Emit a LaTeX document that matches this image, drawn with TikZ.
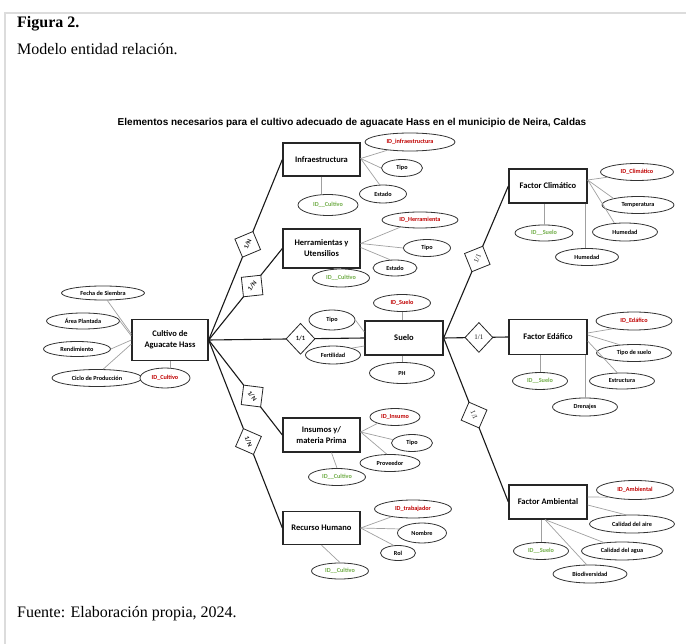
\documentclass[tikz,border=0pt]{standalone}
\usepackage{fontspec}
\setmainfont{Liberation Serif}
\newfontfamily\calib{Carlito}
\newfontfamily\arialf{Liberation Sans}
\usetikzlibrary{shapes.geometric}
\definecolor{idred}{HTML}{C00000}
\definecolor{idgreen}{HTML}{70AD47}
\definecolor{framegray}{HTML}{DCDCDC}
\definecolor{attline}{HTML}{A0A0A0}
\begin{document}
\begin{tikzpicture}[x=1pt,y=-1pt,
 ent/.style={draw=black!85, line width=1.3pt, minimum width=77pt, minimum height=34pt, inner sep=0pt, align=center, font=\calib\bfseries\fontsize{8.5}{11}\selectfont, fill=white},
 att/.style={ellipse, draw=black!80, line width=0.8pt, inner sep=0pt, font=\calib\bfseries\fontsize{6.2}{7}\selectfont, fill=white},
 sz/.style 2 args={minimum width=#1pt, minimum height=#2pt},
 pk/.style={att, text=idred},
 fk/.style={att, text=idgreen},
 rel/.style={diamond, draw=black!85, line width=0.8pt, inner sep=0pt, minimum width=28pt, minimum height=28pt, fill=white, font=\calib\bfseries\fontsize{6.5}{7}\selectfont},
 relr/.style={rel, font=\fontsize{7}{8}\selectfont},
 conn/.style={line width=1.1pt, black!90},
 aln/.style={line width=0.7pt, attline},
]
\useasboundingbox (0,0) rectangle (686,644);
\draw[framegray, line width=1.3pt] (5,650) -- (5,13) -- (690,13);

% captions
\node[anchor=base west, inner sep=0pt, font=\bfseries\fontsize{16}{19}\selectfont] (fig) at (17,28) {Figura 2.};
\node[anchor=base west, inner sep=0pt, font=\fontsize{16}{19}\selectfont] (sub) at (17,55) {Modelo entidad relación.};
\node[anchor=base west, inner sep=0pt, font=\fontsize{16}{19}\selectfont] (src) at (17,617) {Fuente: Elaboración propia, 2024.};
\node[font=\arialf\bfseries\fontsize{10}{12}\selectfont] (title) at (352,123) {Elementos necesarios para el cultivo adecuado de aguacate Hass en el municipio de Neira, Caldas};

% entities
\node[ent, minimum width=76pt, minimum height=41pt] (cul) at (170,340) {Cultivo de\\Aguacate Hass};
\node[ent, minimum height=33pt] (infra) at (321.5,159.5) {Infraestructura};
\node[ent, minimum height=39pt] (herr) at (321.5,248.5) {Herramientas y\\Utensilios};
\node[ent, minimum width=78pt] (suelo) at (404,338) {Suelo};
\node[ent] (ins) at (321.5,435) {Insumos y/\\materia Prima};
\node[ent, minimum height=33pt] (rec) at (321.5,528) {Recurso Humano};
\node[ent, minimum width=78pt] (clim) at (548,186) {Factor Climático};
\node[ent, minimum width=78pt, minimum height=35pt] (eda) at (548,337) {Factor Edáfico};
\node[ent, minimum width=78pt] (amb) at (548,502) {Factor Ambiental};

% main connectors with relationships
\draw[conn] (cul.east) -- node[rel, sloped, pos=0.53] (d1) {1/N} (infra.west);
\draw[conn] (cul.east) -- node[rel, sloped, pos=0.59] (d2) {1/N} (herr.west);
\draw[conn] (cul.east) -- node[rel, pos=0.59, minimum width=29pt, minimum height=31pt] (d3) {1/1} (suelo.west);
\draw[conn] (cul.east) -- node[rel, sloped, pos=0.59] (d4) {1/N} (ins.west);
\draw[conn] (cul.east) -- node[rel, sloped, pos=0.54] (d5) {1/N} (rec.west);
\draw[conn] (suelo.east) -- node[relr, sloped, pos=0.52] (d6) {1/1} (clim.west);
\draw[conn] (suelo.east) -- node[relr, pos=0.545, minimum height=30pt] (d7) {1/1} (eda.west);
\draw[conn] (suelo.east) -- node[relr, sloped, pos=0.47] (d8) {1/1} (amb.west);

% Cultivo attributes
\node[att, sz={83}{14}] (fs) at (103,293) {Fecha de Siembra};
\node[att, sz={73}{16}] (ap) at (83,321) {Área Plantada};
\node[att, sz={67}{15}] (rd) at (77,349) {Rendimiento};
\node[att, sz={90}{17}] (cp) at (97,378) {Ciclo de Producción};
\node[pk, sz={50}{20}] (idc) at (165,378) {ID\_Cultivo};
\draw[aln] (fs.300) -- ([yshift=6pt]cul.west);
\draw[aln] (ap.east) -- ([yshift=4pt]cul.west);
\draw[aln] (rd.east) -- (cul.west);
\draw[aln] (cp.55) -- ([yshift=-4pt]cul.west);
\draw[aln] (cul.south) -- (cul.south |- idc.north);

% Infraestructura
\node[pk, sz={90}{18}] (iinf) at (410,142) {ID\_infraestructura};
\node[att, sz={41}{17}] (itipo) at (402,168) {Tipo};
\node[att, sz={47}{18}] (iest) at (383,194) {Estado};
\node[fk, sz={60}{21}] (ifk) at (328,205) {ID\_\_Cultivo};
\draw[aln] ([yshift=1pt]infra.east) -- (iinf.200);
\draw[aln] ([yshift=1pt]infra.east) -- (itipo.west);
\draw[aln] ([yshift=1pt]infra.east) -- (iest.110);
\draw[aln] (infra.south) -- (infra.south |- ifk.north);

% Herramientas
\node[pk, sz={76}{16}] (hid) at (420,220) {ID\_Herramienta};
\node[att, sz={47}{17}] (htipo) at (427,248) {Tipo};
\node[att, sz={44}{16}] (hest) at (395,268) {Estado};
\node[fk, sz={57}{18}] (hfk) at (341,278) {ID\_\_Cultivo};
\draw[aln] ([yshift=5pt]herr.east) -- (hid.200);
\draw[aln] ([yshift=5pt]herr.east) -- (htipo.west);
\draw[aln] ([yshift=1pt]herr.east) -- (hest.120);
\draw[aln] ([xshift=12pt]herr.south) -- (hfk.north);

% Suelo
\node[pk, sz={57}{17}] (sid) at (402,303) {ID\_Suelo};
\node[att, sz={46}{20}] (stipo) at (332,320) {Tipo};
\node[att, sz={55}{18}] (sfer) at (333,355) {Fertilidad};
\node[att, sz={65}{21}] (sph) at (402,373) {PH};
\draw[aln] (sid.south) -- (sid.south |- suelo.north);
\draw[aln] (stipo.east) -- ([yshift=6pt]suelo.west);
\draw[aln] (sfer.20) -- ([yshift=-8pt]suelo.west);
\draw[aln] (sph.north) -- (sph.north |- suelo.south);

% Insumos
\node[pk, sz={50}{17}] (nid) at (395,417) {ID\_Insumo};
\node[att, sz={41}{17}] (ntipo) at (412,443) {Tipo};
\node[att, sz={60}{17}] (nprov) at (390,463) {Proveedor};
\node[fk, sz={57}{17}] (nfk) at (337,477) {ID\_\_Cultivo};
\draw[aln] ([yshift=3pt]ins.east) -- (nid.200);
\draw[aln] ([yshift=3pt]ins.east) -- (ntipo.170);
\draw[aln] ([yshift=3pt]ins.east) -- (nprov.110);
\draw[aln] ([xshift=10pt]ins.south) -- (nfk.north);

% Recurso Humano
\node[pk, sz={77}{18}] (rid) at (413,509) {ID\_trabajador};
\node[att, sz={49}{20}] (rnom) at (422,533) {Nombre};
\node[att, sz={35}{15}] (rrol) at (398,553) {Rol};
\node[fk, sz={57}{16}] (rfk) at (340,571) {ID\_\_Cultivo};
\draw[aln] (rec.east) -- (rid.200);
\draw[aln] (rec.east) -- (rnom.170);
\draw[aln] (rec.east) -- (rrol.120);
\draw[aln] (rec.south) -- (rfk.north);

% Factor Climatico
\node[pk, sz={73}{17}] (cid) at (637,172) {ID\_Climático};
\node[att, sz={72}{17}] (ctem) at (638,205) {Temperatura};
\node[att, sz={65}{18}] (chum) at (625,232) {Humedad};
\node[att, sz={63}{17}] (chum2) at (587,257) {Humedad};
\node[fk, sz={58}{16}] (cfk) at (544,233) {ID\_\_Suelo};
\draw[aln] ([yshift=6pt]clim.east) -- (cid.190);
\draw[aln] ([yshift=6pt]clim.east) -- (ctem.165);
\draw[aln] ([yshift=6pt]clim.east) -- (chum.140);
\coordinate (c1) at ([xshift=-2pt]clim.south east);
\draw[aln] (c1) -- (c1 |- chum2.north);
\draw[aln] (cfk.north) -- (cfk.north |- clim.south);

% Factor Edafico
\node[pk, sz={76}{18}] (eid) at (634,321) {ID\_Edáfico};
\node[att, sz={75}{17}] (etip) at (634,353) {Tipo de suelo};
\node[att, sz={65}{16}] (eest) at (622,381) {Estructura};
\node[att, sz={65}{18}] (edre) at (585,407) {Drenajes};
\node[fk, sz={55}{17}] (efk) at (540,381) {ID\_\_Suelo};
\draw[aln] ([yshift=4pt]eda.east) -- (eid.200);
\draw[aln] ([yshift=2pt]eda.east) -- (etip.150);
\draw[aln] ([yshift=-4pt]eda.east) -- (eest.120);
\coordinate (c2) at ([xshift=-2pt]eda.south east);
\draw[aln] (c2) -- (c2 |- edre.north);
\draw[aln] (efk.north) -- (efk.north |- eda.south);

% Factor Ambiental
\node[pk, sz={77}{19}] (aid) at (635,490) {ID\_Ambiental};
\node[att, sz={85}{18}] (aair) at (632,524) {Calidad del aire};
\node[att, sz={81}{18}] (aagu) at (622,551) {Calidad del agua};
\node[att, sz={74}{18}] (abio) at (590,574) {Biodiversidad};
\node[fk, sz={55}{17}] (afk) at (541,551) {ID\_\_Suelo};
\draw[aln] ([yshift=5pt]amb.east) -- (aid.195);
\draw[aln] ([yshift=-3pt]amb.east) -- (aair.125);
\coordinate (c3) at ([xshift=-3pt]amb.south);
\draw[aln] (c3) -- (aagu.155);
\draw[aln] (c3) -- (abio.110);
\draw[aln] (afk.north) -- (afk.north |- amb.south);
\end{tikzpicture}
\end{document}
